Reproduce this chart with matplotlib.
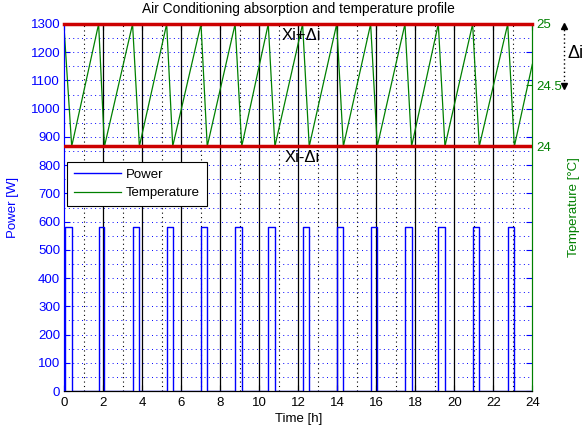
# -*- coding: utf-8 -*-
# Air conditioning absorption and temperature profile (MATLAB plotyy style)

import matplotlib
matplotlib.use('Agg')
import matplotlib.pyplot as plt
from matplotlib.transforms import blended_transform_factory

plt.rcParams['font.family'] = ['Liberation Sans', 'DejaVu Sans']
plt.rcParams['font.size'] = 9.5
plt.rcParams['savefig.facecolor'] = 'white'

### data

# compressor on/off times [h]
on_start = [0.05, 1.76, 3.50, 5.25, 7.01, 8.76, 10.46, 12.22, 13.97, 15.71, 17.47, 19.18, 20.94, 22.74]
on_end = [0.38, 2.06, 3.85, 5.56, 7.33, 9.10, 10.80, 12.56, 14.31, 16.05, 17.81, 19.52, 21.28, 23.08]
ac_power = 580  # [W]

# temperature profile vertices
temp_time = [0.00, 0.38, 1.76, 2.06, 3.50, 3.85, 5.25, 5.56, 7.01, 7.33, 8.76, 9.10,
             10.46, 10.80, 12.22, 12.56, 13.97, 14.31, 15.71, 16.05, 17.47, 17.81,
             19.18, 19.52, 20.94, 21.28, 22.74, 23.08, 24.00]
temp_value = [24.94, 24.00, 25.00, 24.00, 25.00, 24.00, 25.00, 24.00, 25.00, 24.00, 25.00, 24.00,
              25.00, 24.00, 25.00, 24.00, 25.00, 24.00, 25.00, 24.00, 25.00, 24.00,
              25.00, 24.00, 25.00, 24.00, 25.00, 24.00, 24.67]

x_ticks = list(range(0, 25, 2))
power_ticks = list(range(0, 1301, 100))
temp_ticks = [24, 24.5, 25]
t_low, t_high = 24, 25  # Xi-Di, Xi+Di

green = '#008000'

### figure
fig = plt.figure(figsize=(5.86, 4.37), dpi=100)
ax1 = fig.add_axes([64.3 / 586, 46 / 437, 468 / 586, 367 / 437])
ax2 = ax1.twinx()

# step signal for the power
px, py = [0], [0]
for s, e in zip(on_start, on_end):
    px += [s, s, e, e]
    py += [0, ac_power, ac_power, 0]
px.append(24)
py.append(0)

# grid-ish lines
for w in range(50, 1300, 50):
    ax1.axhline(w, color='blue', lw=0.7, ls=(0, (1, 3.5)), zorder=1)
for h in range(1, 24):
    if h % 2 == 0:
        ax1.axvline(h, color='k', lw=0.9, zorder=1.5)
    else:
        ax1.axvline(h, color='k', lw=0.8, ls=(0, (1, 3)), zorder=1.5)

l1, = ax1.plot(px, py, color='blue', lw=1.0, label='Power', zorder=2)
l2, = ax2.plot(temp_time, temp_value, color=green, lw=0.9, label='Temperature', zorder=2)

# band limits
ax2.axhline(t_high, color='#cc0000', lw=2.5, zorder=3, clip_on=False)
ax2.axhline(t_low, color='#cc0000', lw=2.5, zorder=3)
ax2.text(11.15, t_high - 0.095, 'Xi+\u0394i', fontsize=12, ha='left', va='center', zorder=4)
ax2.text(11.30, t_low - 0.09, 'Xi-\u0394i', fontsize=12, ha='left', va='center', zorder=4)

# axes
ax1.set_xlim(0, 24)
ax1.set_ylim(0, 1300)
ax2.set_ylim(22, 25)
ax1.set_xticks(x_ticks)
ax1.set_yticks(power_ticks)
ax2.set_yticks(temp_ticks)
ax2.set_yticklabels(['24', '24.5', '25'])

ax1.tick_params(axis='x', direction='in', length=4, pad=4, top=True, colors='k')
ax1.tick_params(axis='y', direction='in', length=4, pad=3, right=True, colors='blue')
ax2.tick_params(axis='y', direction='in', length=4, pad=3, colors=green)

for ax in (ax1, ax2):
    ax.spines['left'].set_color('blue')
    ax.spines['right'].set_color(green)
    ax.spines['bottom'].set_color('k')
    ax.spines['top'].set_color('#cc0000')
    ax.patch.set_visible(False)
ax1.patch.set_visible(True)
ax1.patch.set_facecolor('white')

ax1.set_xlabel('Time [h]', labelpad=3)
ax1.set_ylabel('Power [W]', color='blue', labelpad=8)
ax2.set_ylabel('Temperature [\u00b0C]', color=green, labelpad=4)
ax1.set_title('Air Conditioning absorption and temperature profile', fontsize=9.9, pad=8)

# delta arrow on the right
trans = blended_transform_factory(ax2.transAxes, ax2.transData)
ax2.plot([1.068, 1.068], [24.5, 25.0], color='k', lw=1, ls=(0, (1, 2)), transform=trans, clip_on=False)
ax2.plot([1.068], [24.985], marker='^', color='k', ms=4, transform=trans, clip_on=False)
ax2.plot([1.068], [24.49], marker='v', color='k', ms=4, transform=trans, clip_on=False)
fig.text(576 / 586, 1 - 53.7 / 437, '\u0394i', fontsize=13, ha='center', va='center')

leg = ax2.legend([l1, l2], ['Power', 'Temperature'], loc='upper left',
                 bbox_to_anchor=(0.0064, 0.6248), borderaxespad=0, fancybox=False,
                 edgecolor='k', framealpha=1, handlelength=3.6, handletextpad=0.35,
                 labelspacing=0.5, borderpad=0.5)
leg.get_frame().set_linewidth(0.8)
leg.set_zorder(10)

plt.savefig('out.png', dpi=100)
